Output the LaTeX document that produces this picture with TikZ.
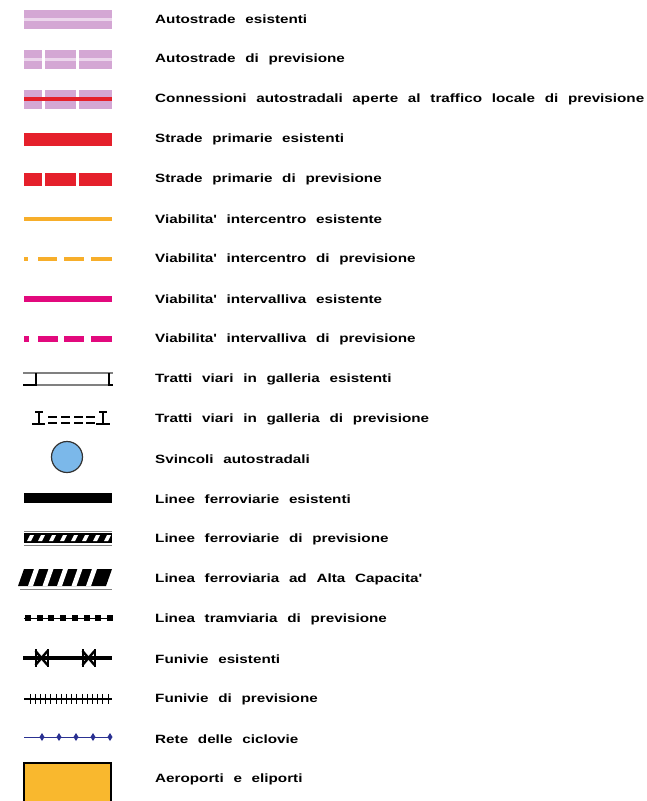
\documentclass[tikz,border=0pt]{standalone}
\usepackage{fontspec}
\newfontfamily\legfont[FakeStretch=1.27,WordSpace=2.3]{Liberation Sans}
\usetikzlibrary{positioning}

\definecolor{lilac}{HTML}{D4A7D4}
\definecolor{lilacpale}{HTML}{ECD6EC}
\definecolor{roadred}{HTML}{E5202B}
\definecolor{amber}{HTML}{F7AE2A}
\definecolor{roadpink}{HTML}{E2097D}
\definecolor{nodeblue}{HTML}{7BB8EA}
\definecolor{cycleblue}{HTML}{2A3192}
\definecolor{airport}{HTML}{F9B82E}

\tikzset{
  leg/.style={anchor=west, inner sep=0pt, font=\legfont\bfseries\fontsize{12pt}{14pt}\selectfont},
  tunnelrim/.style={draw=gray, line width=1.6pt},
  ibeam/.style={draw=black, line width=1.6pt}
}

\begin{document}
\begin{tikzpicture}[x=1pt,y=-1pt]
\clip (0,0) rectangle (647,801);

% autostrade
\fill[lilac] (24,10) rectangle (112,29);
\fill[lilacpale] (24,18) rectangle (112,21);
\foreach \a/\b in {24/42,45/76,79/112} {
  \fill[lilac] (\a,50) rectangle (\b,69);
  \fill[lilacpale] (\a,58) rectangle (\b,61);
  \fill[lilac] (\a,90) rectangle (\b,109);
  \fill[lilacpale] (\a,98) rectangle (\b,101);
  \fill[roadred] (\a,173) rectangle (\b,186);
}
\draw[roadred, line width=4.5pt] (24,99) -- (112,99);
\fill[roadred] (24,133) rectangle (112,146);

% viabilita'
\draw[amber, line width=4.5pt] (24,219) -- (112,219);
\draw[amber, line width=4pt] (24,259) -- (28,259) (38,259) -- (57,259)
  (64,259) -- (84,259) (91,259) -- (112,259);
\draw[roadpink, line width=6pt] (24,299) -- (112,299);
\draw[roadpink, line width=6pt] (24,339) -- (29,339) (38,339) -- (58,339)
  (64,339) -- (84,339) (91,339) -- (112,339);

% gallerie
\draw[tunnelrim] (23,373) -- (113,373) (23,385) -- (113,385);
\draw[ibeam] (23,385) -- (36,385) -- (36,373) (109,373) -- (109,385) -- (113,385);
\draw[ibeam] (35,412) -- (43,412) (39,412) -- (39,424) (32,424) -- (45,424);
\draw[ibeam] (99,412) -- (107,412) (103,412) -- (103,424) (96,424) -- (110,424);
\foreach \a in {48,61,74,86}
  \draw[line width=1.5pt] (\a,417) -- ++(9,0) (\a,423) -- ++(9,0);

% svincoli
\node[circle, draw=black!80, line width=1.2pt, fill=nodeblue, minimum size=31pt,
  inner sep=0pt] (svincolo) at (67,457) {};

% ferrovie
\draw[line width=10pt] (24,498) -- (112,498);
\fill[black] (24,533) rectangle (112,543);
\draw[gray, line width=1pt] (24,531) -- (112,531) (24,545) -- (112,545);
\foreach \k in {0,...,7}
  \fill[white] ({27+11*\k},541) -- ++(4,0) -- ++(3,-6) -- ++(-4,0) -- cycle;
\fill[black] (18,586) -- (24,569) -- (112,569) -- (106,586) -- cycle;
\foreach \k in {0,...,4}
  \fill[white] ({28+14.5*\k},586) -- ++(5,0) -- ++(6,-17) -- ++(-5,0) -- cycle;
\draw[gray, line width=1pt] (20,589) -- (112,589);

% tram e funivie
\draw[line width=1pt] (24,618) -- (113,618);
\foreach \k in {0,...,7}
  \fill ({25+11.7*\k},615) rectangle ++(6,6);
\draw[line width=3.5pt] (23,658) -- (112,658);
\foreach \c in {41.5,88.5} {
  \draw[line width=2.4pt] (\c-6,651) -- (\c+6,665) (\c-6,665) -- (\c+6,651);
  \draw[line width=2pt] (\c-6,649) -- (\c-6,667) (\c+6,649) -- (\c+6,667);
}
\draw[line width=1.5pt] (24,699) -- (112,699);
\foreach \k in {0,...,15}
  \draw[line width=1pt] ({30+5.2*\k},694) -- ++(0,10);

% ciclovie
\draw[cycleblue, line width=1pt] (24,737) -- (112,737);
\foreach \c in {42,59,76,93,110}
  \fill[cycleblue] (\c,733) -- (\c+2.5,737) -- (\c,741) -- (\c-2.5,737) -- cycle;

% aeroporti
\draw[fill=airport, line width=1.5pt] (24,763) rectangle (111,806);

% testi
\node[leg] (t1) at (155,19) {Autostrade esistenti};
\node[leg] (t2) at (155,59) {Autostrade di previsione};
\node[leg] (t3) at (155,99) {Connessioni autostradali aperte al traffico locale di previsione};
\node[leg] (t4) at (155,139) {Strade primarie esistenti};
\node[leg] (t5) at (155,179) {Strade primarie di previsione};
\node[leg] (t6) at (155,219) {Viabilita' intercentro esistente};
\node[leg] (t7) at (155,259) {Viabilita' intercentro di previsione};
\node[leg] (t8) at (155,299) {Viabilita' intervalliva esistente};
\node[leg] (t9) at (155,339) {Viabilita' intervalliva di previsione};
\node[leg] (t10) at (155,379) {Tratti viari in galleria esistenti};
\node[leg] (t11) at (155,419) {Tratti viari in galleria di previsione};
\node[leg] (t12) at (155,459) {Svincoli autostradali};
\node[leg] (t13) at (155,499) {Linee ferroviarie esistenti};
\node[leg] (t14) at (155,539) {Linee ferroviarie di previsione};
\node[leg] (t15) at (155,579) {Linea ferroviaria ad Alta Capacita'};
\node[leg] (t16) at (155,619) {Linea tramviaria di previsione};
\node[leg] (t17) at (155,659) {Funivie esistenti};
\node[leg] (t18) at (155,699) {Funivie di previsione};
\node[leg] (t19) at (155,739) {Rete delle ciclovie};
\node[leg] (t20) at (155,779) {Aeroporti e eliporti};
\end{tikzpicture}
\end{document}
